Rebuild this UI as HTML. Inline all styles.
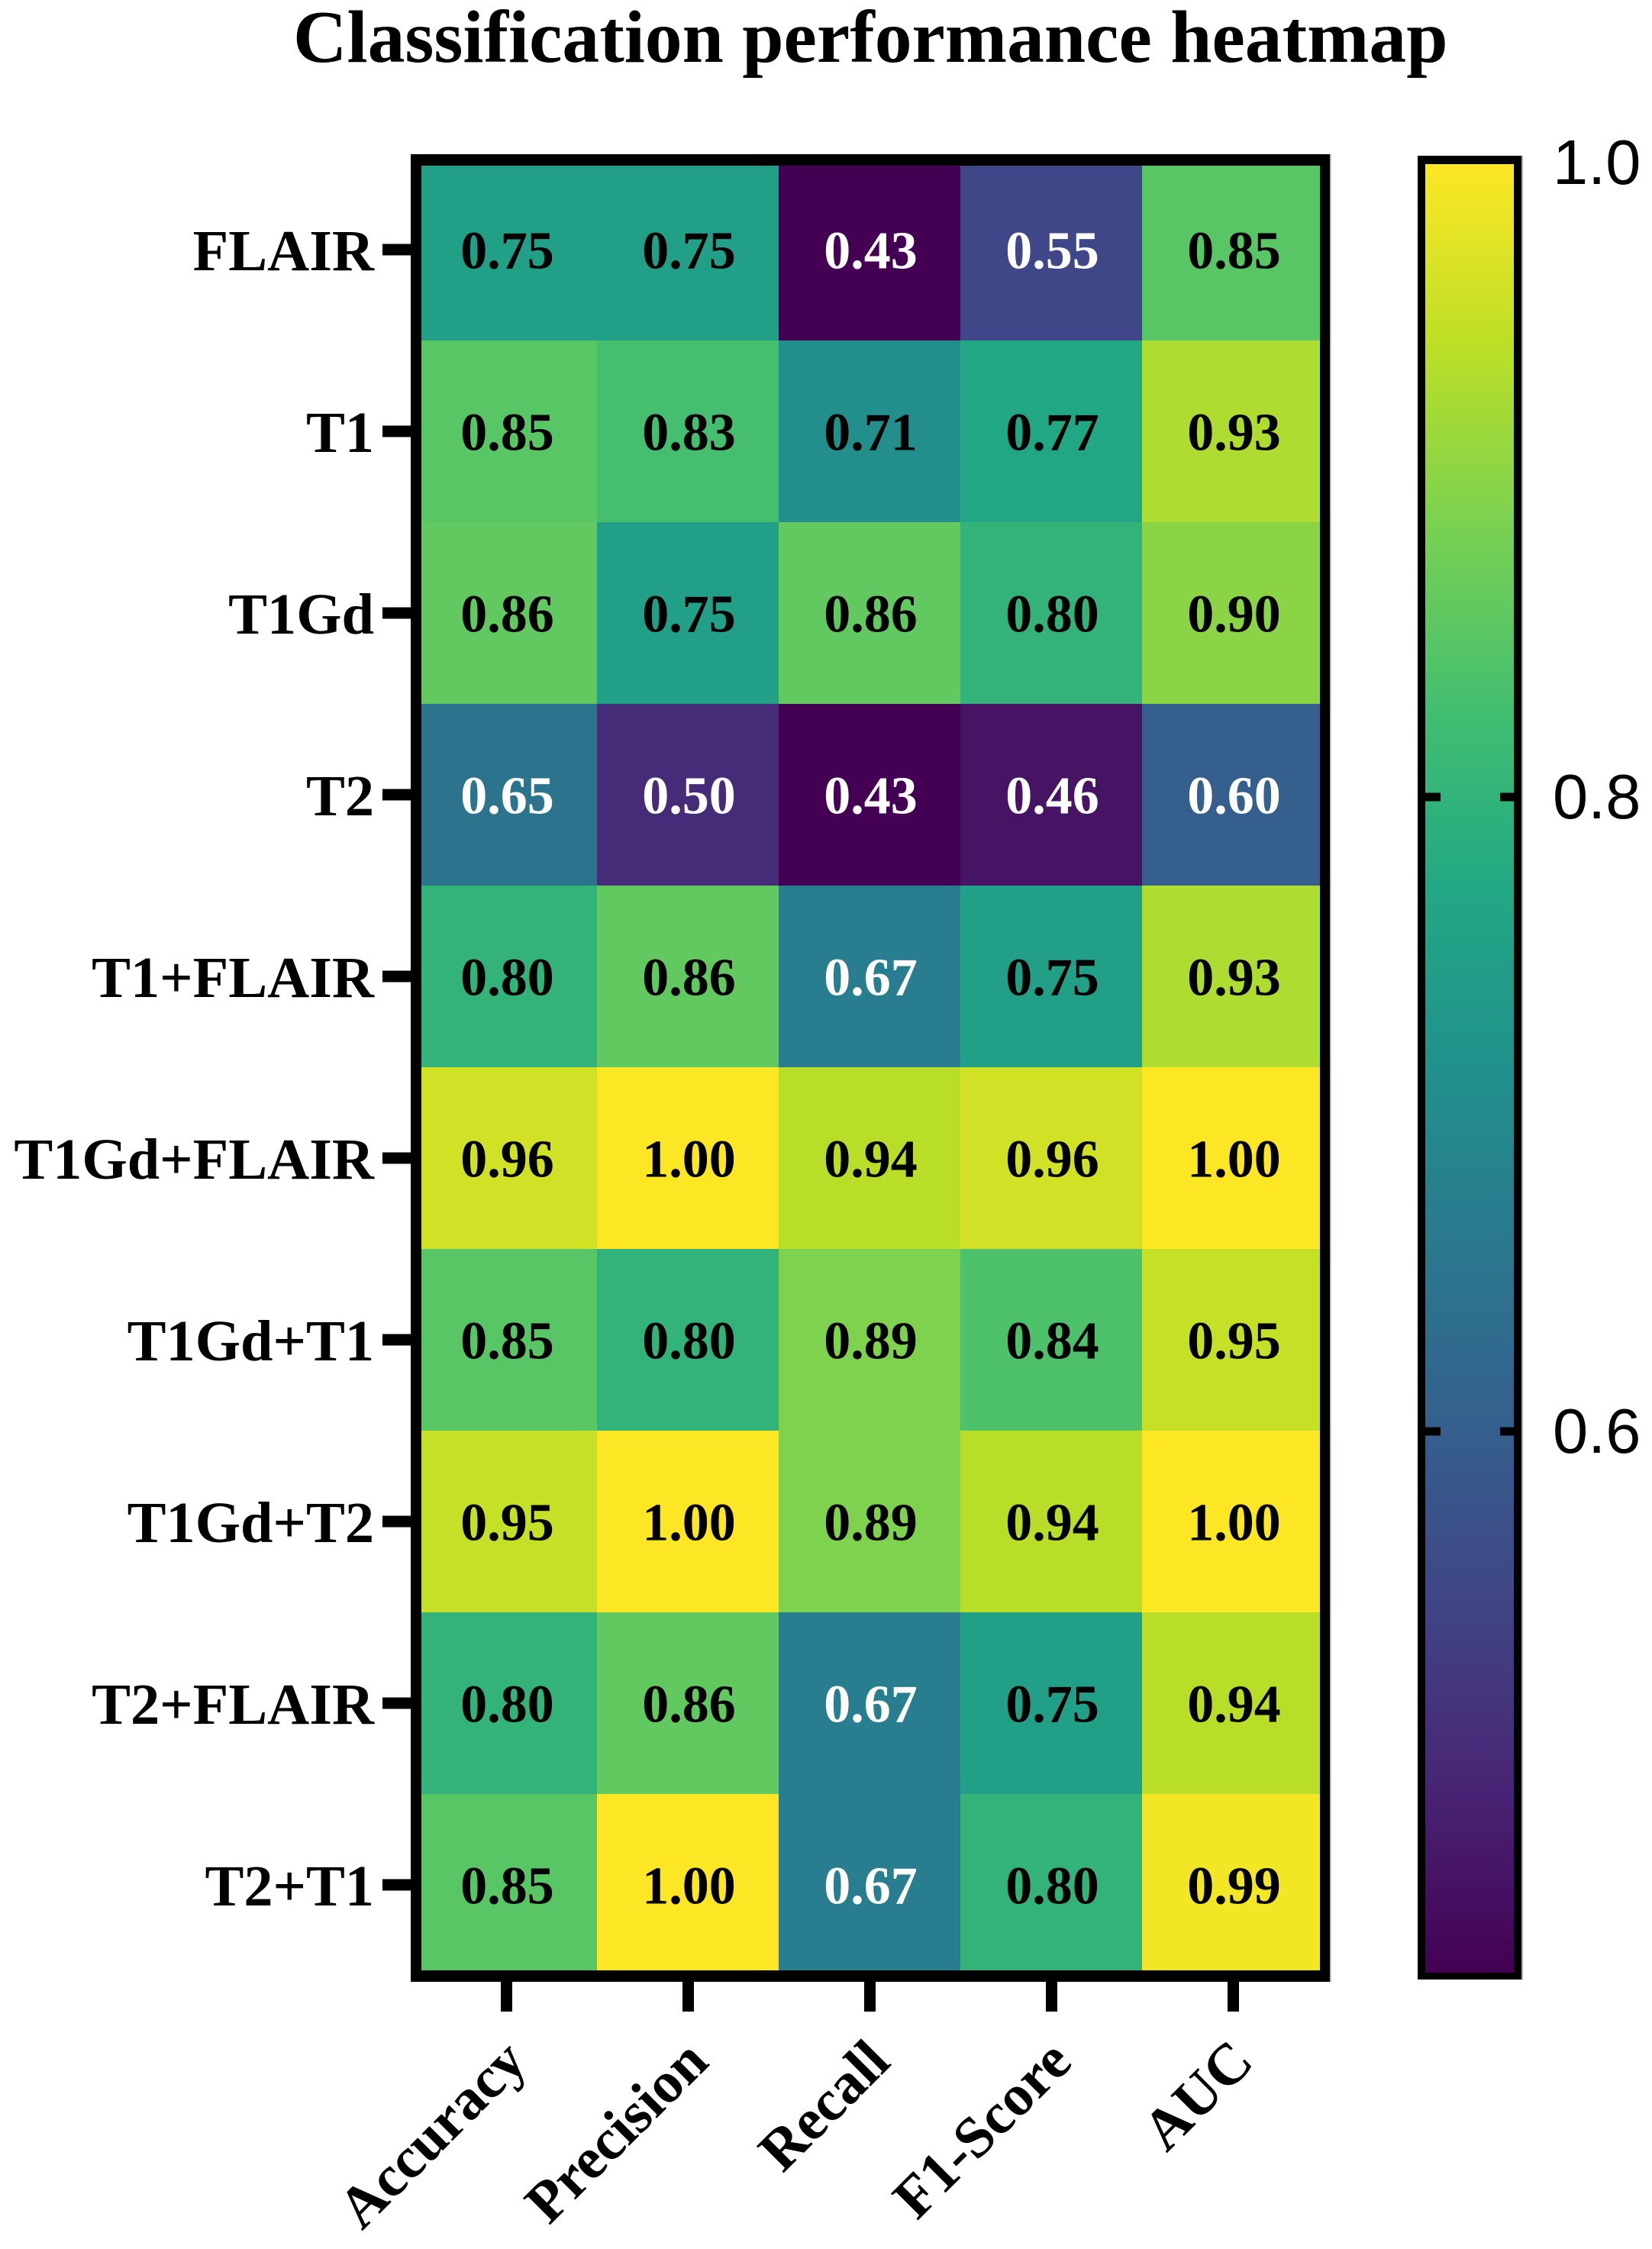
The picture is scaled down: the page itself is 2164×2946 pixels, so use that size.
<!DOCTYPE html>
<html lang="en">
<head>
<meta charset="utf-8">
<title>Classification performance heatmap</title>
<style>
  html, body { margin: 0; padding: 0; background: #fff; }
  svg { display: block; }
  text { font-family: "Liberation Serif", serif; font-weight: bold; font-variant-ligatures: none; fill: #000; }
  text.cb { font-family: "Liberation Sans", sans-serif; font-weight: normal; }
</style>
</head>
<body>
<svg id="chart" xmlns="http://www.w3.org/2000/svg" width="2164" height="2946" viewBox="0 0 2164 2946">
  <defs>
    <linearGradient id="viridis-gradient" gradientUnits="userSpaceOnUse" spreadMethod="pad"></linearGradient>
    <clipPath id="grid-clip"><rect x="552" y="217" width="1177" height="2364"></rect></clipPath>
  </defs>
  <rect x="0" y="0" width="2164" height="2946" fill="#fff"></rect>
  <text x="384" y="81" font-size="97.6">Classification performance heatmap</text>
  <g id="cells" clip-path="url(#grid-clip)" shape-rendering="crispEdges"></g>
  <g id="values"></g>
  <g id="y-axis"></g>
  <g id="x-axis"></g>
  <rect x="1742" y="202" width="1.5" height="2394" fill="#aaa"></rect>
  <path fill="#000" fill-rule="evenodd" d="M538 202H1742V2596H538ZM552 217V2581H1729V217Z"></path>
  <g id="colorbar"></g>
</svg>
<script>
const rowLabels = ["FLAIR", "T1", "T1Gd", "T2", "T1+FLAIR", "T1Gd+FLAIR", "T1Gd+T1", "T1Gd+T2", "T2+FLAIR", "T2+T1"];
const metricLabels = ["Accuracy", "Precision", "Recall", "F1-Score", "AUC"];
const accuracyValues = [0.75, 0.85, 0.86, 0.65, 0.80, 0.96, 0.85, 0.95, 0.80, 0.85];
const precisionValues = [0.75, 0.83, 0.75, 0.50, 0.86, 1.00, 0.80, 1.00, 0.86, 1.00];
const recallValues = [0.43, 0.71, 0.86, 0.43, 0.67, 0.94, 0.89, 0.89, 0.67, 0.67];
const f1ScoreValues = [0.55, 0.77, 0.80, 0.46, 0.75, 0.96, 0.84, 0.94, 0.75, 0.80];
const aucValues = [0.85, 0.93, 0.90, 0.60, 0.93, 1.00, 0.95, 1.00, 0.94, 0.99];
const colorbarTicks = [1.0, 0.8, 0.6];
const colorDomainMin = 0.43;
const colorDomainMax = 1.0;
const viridisStops = ["#440154", "#482475", "#414487", "#355f8d", "#2a788e", "#21918c", "#22a884", "#44bf70", "#7ad151", "#bddf26", "#fde725"];

const NS = "http://www.w3.org/2000/svg";
const metricSeries = [accuracyValues, precisionValues, recallValues, f1ScoreValues, aucValues];

function make(parentId, tag, attrs, content) {
  const el = document.createElementNS(NS, tag);
  for (const k in attrs) el.setAttribute(k, attrs[k]);
  if (content !== undefined) el.textContent = content;
  document.getElementById(parentId).appendChild(el);
  return el;
}
function hexToRgb(h) {
  return [parseInt(h.slice(1, 3), 16), parseInt(h.slice(3, 5), 16), parseInt(h.slice(5, 7), 16)];
}
function viridis(t) {
  const c = Math.max(0, Math.min(1, t)) * (viridisStops.length - 1);
  const i = Math.min(Math.floor(c), viridisStops.length - 2);
  const f = c - i;
  const a = hexToRgb(viridisStops[i]);
  const b = hexToRgb(viridisStops[i + 1]);
  return "rgb(" + a.map((v, n) => Math.round(v + (b[n] - v) * f)).join(",") + ")";
}
const colorScale = v => viridis((v - colorDomainMin) / (colorDomainMax - colorDomainMin));

const cellSize = 238;
const gridLeft = 544;
const gridTop = 208;
const xEdge = c => gridLeft + c * cellSize;
const yEdge = r => gridTop + r * cellSize;
const xCenter = c => xEdge(c) + cellSize / 2;
const yCenter = r => yEdge(r) + cellSize / 2;

metricSeries.forEach((series, c) => {
  series.forEach((value, r) => {
    const cell = make("cells", "rect", { x: xEdge(c), y: yEdge(r), width: cellSize, height: cellSize, fill: colorScale(value) });
    
    
    const label = make("values", "text", { x: xCenter(c) + 1.5, y: yCenter(r) + 24.5, "font-size": 70, "text-anchor": "middle", style: "fill:" + (value < 0.7 ? "#fff" : "#000") }, value.toFixed(2));
    
    
  });
});

rowLabels.forEach((name, r) => {
  const tick = make("y-axis", "rect", { x: 501, y: yCenter(r) - 7.5, width: 38, height: 15, fill: "#000" });
  
  
  const label = make("y-axis", "text", { x: 490, y: yCenter(r) + 27, "font-size": 76.3, "text-anchor": "end" }, name);
  
  
});

metricLabels.forEach((name, c) => {
  const tick = make("x-axis", "rect", { x: xCenter(c) - 7, y: 2596, width: 15, height: 39, fill: "#000" });
  
  
  const ax = xCenter(c) + 30;
  const ay = 2704;
  const label = make("x-axis", "text", { x: ax, y: ay, "font-size": 76.3, "text-anchor": "end", transform: "rotate(-45 " + ax + " " + ay + ")" }, name);
  
  
});

const colorbarY = v => 1044 + (0.8 - v) * 4155;
const grad = document.getElementById("viridis-gradient");
grad.setAttribute("x1", 0);
grad.setAttribute("x2", 0);
grad.setAttribute("y1", colorbarY(colorDomainMin));
grad.setAttribute("y2", colorbarY(colorDomainMax));
viridisStops.forEach((color, i) => {
  const stop = document.createElementNS(NS, "stop");
  stop.setAttribute("offset", i / (viridisStops.length - 1));
  stop.setAttribute("stop-color", color);
  grad.appendChild(stop);
});
const colorbarRamp = make("colorbar", "rect", { x: 1866, y: 210, width: 118, height: 2380, fill: "url(#viridis-gradient)" });


colorbarTicks.forEach(v => {
  const y = colorbarY(v);
  if (v < colorDomainMax) {
    const tickLeft = make("colorbar", "rect", { x: 1866, y: y - 5.5, width: 21, height: 11, fill: "#000" });
    
    
    const tickRight = make("colorbar", "rect", { x: 1965, y: y - 5.5, width: 19, height: 11, fill: "#000" });
    
    
  }
  const label = make("colorbar", "text", { class: "cb", x: 2034, y: y + 28, "font-size": 83 }, v.toFixed(1));
  
  
});
const colorbarEdge = make("colorbar", "rect", { x: 1993, y: 204, width: 2, height: 2389, fill: "#aaa" });


const colorbarFrame = make("colorbar", "path", { fill: "#000", "fill-rule": "evenodd", d: "M1857 204H1993V2593H1857ZM1867 215V2584H1983V215Z" });


</script>
</body>
</html>
